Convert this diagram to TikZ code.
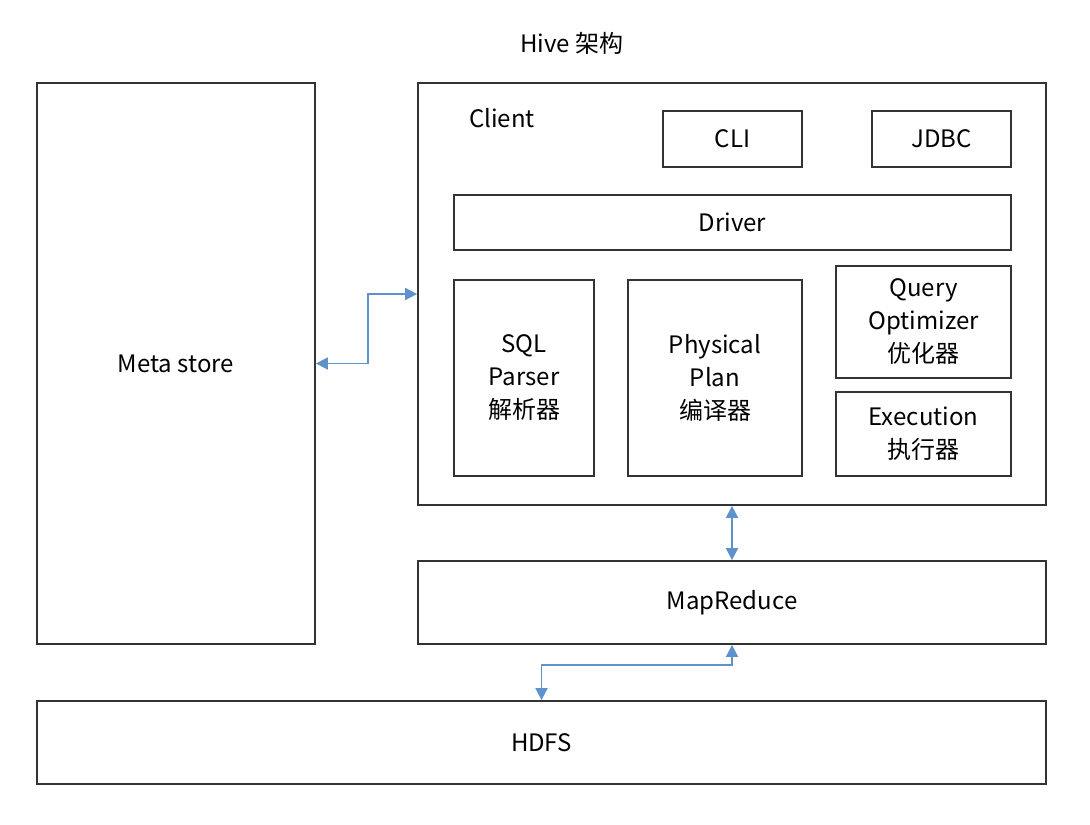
\documentclass[tikz,border=0pt]{standalone}
\usepackage{fontspec}
\setmainfont{Noto Sans CJK SC}
\usetikzlibrary{arrows.meta}
\definecolor{ab}{RGB}{95,145,205}
\begin{document}
\begin{tikzpicture}[x=0.5pt,y=-0.5pt,
 box/.style={draw=black!80,line width=0.9pt,inner sep=0pt,align=center,font=\fontsize{12}{16.5}\selectfont},
 arr/.style={draw=ab,line width=0.9pt,{Triangle[length=6pt,width=6pt]}-{Triangle[length=6pt,width=6pt]}}]
\useasboundingbox (0,0) rectangle (1090,824);
\node[font=\fontsize{12}{16}\selectfont] (title) at (572,43) {Hive 架构};
\node[box,minimum width=139pt,minimum height=280.5pt] (meta) at (176,363.5) {Meta store};
\node[box,minimum width=314pt,minimum height=211pt] (client) at (732,294) {};
\node[font=\fontsize{12}{16}\selectfont,anchor=west] (clabel) at (462,118) {Client};
\node[box,minimum width=69.5pt,minimum height=28pt] (cli) at (732.5,139) {CLI};
\node[box,minimum width=69.5pt,minimum height=28pt] (jdbc) at (941.5,139) {JDBC};
\node[box,minimum width=278.5pt,minimum height=27.5pt] (driver) at (732.5,222.5) {Driver};
\node[box,minimum width=70pt,minimum height=98pt] (sql) at (524,378) {SQL\\Parser\\解析器};
\node[box,minimum width=87pt,minimum height=98pt] (phys) at (715,378) {Physical\\Plan\\编译器};
\node[box,minimum width=87.5pt,minimum height=56pt] (query) at (923.5,322) {Query\\Optimizer\\优化器};
\node[box,minimum width=87.5pt,minimum height=42pt] (exec) at (923.5,434) {Execution\\执行器};
\node[box,minimum width=314pt,minimum height=41.5pt] (mr) at (732,602.5) {MapReduce};
\node[box,minimum width=504.5pt,minimum height=41.5pt] (hdfs) at (541.5,742.5) {HDFS};
\draw[arr] (meta.east) -- (368,363.5) |- (client.west);
\draw[arr] (client.south) -- (mr.north);
\draw[arr] (mr.south) -- (732,665) -| (hdfs.north);
\end{tikzpicture}
\end{document}
